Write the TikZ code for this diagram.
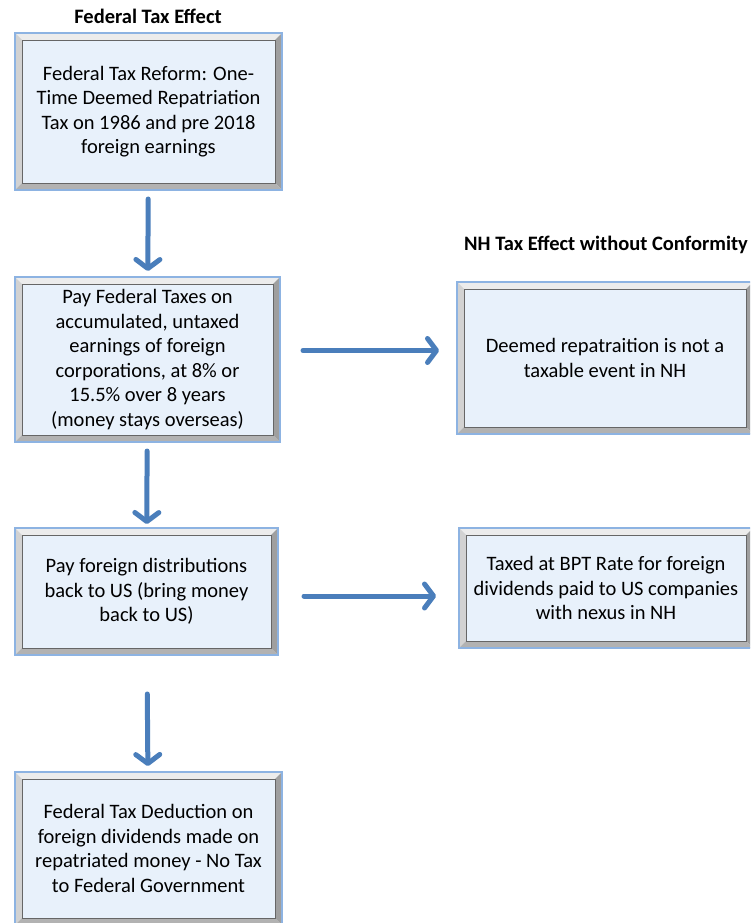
\documentclass[tikz,border=0pt]{standalone}
\usepackage{fontspec}
\setmainfont{Carlito}
\usetikzlibrary{arrows.meta}
\definecolor{boxfill}{RGB}{232,241,251}
\definecolor{boxedge}{RGB}{141,179,226}
\definecolor{flowblue}{RGB}{74,126,187}
\newcommand\bevelwidth{7pt}

\begin{document}
\begin{tikzpicture}[x=1pt,y=-1pt,
		bevel/.style={path picture={
			\path (path picture bounding box.north west) coordinate (bnw)
			      (path picture bounding box.north east) coordinate (bne)
			      (path picture bounding box.south west) coordinate (bsw)
			      (path picture bounding box.south east) coordinate (bse);
			\fill[gray!15] (bnw) -- (bne) -- ([shift={(-\bevelwidth,-\bevelwidth)}]bne) -- ([shift={(\bevelwidth,-\bevelwidth)}]bnw) -- cycle;
			\fill[gray!35] (bnw) -- (bsw) -- ([shift={(\bevelwidth,\bevelwidth)}]bsw) -- ([shift={(\bevelwidth,-\bevelwidth)}]bnw) -- cycle;
			\fill[gray!75] (bne) -- (bse) -- ([shift={(-\bevelwidth,\bevelwidth)}]bse) -- ([shift={(-\bevelwidth,-\bevelwidth)}]bne) -- cycle;
			\fill[gray!60] (bsw) -- (bse) -- ([shift={(-\bevelwidth,\bevelwidth)}]bse) -- ([shift={(\bevelwidth,\bevelwidth)}]bsw) -- cycle;
			\draw[gray!80!black, line width=0.6pt] ([shift={(\bevelwidth,-\bevelwidth)}]bnw) rectangle ([shift={(-\bevelwidth,\bevelwidth)}]bse);
		}},
		taxbox/.style={bevel, draw=boxedge, line width=2pt, fill=boxfill, align=center, inner sep=0pt,
			font=\fontsize{20.5}{24.5}\selectfont},
		heading/.style={font=\bfseries\fontsize{20.5}{24}\selectfont},
		flow/.style={draw=flowblue, line width=5pt, line cap=round,
			-{Straight Barb[length=9pt,width=24pt,round]}}]
	\useasboundingbox (0,0) rectangle (750,923);
	\clip (0,0) rectangle (750,923);
	\node[heading] (fedtitle) at (148,16) {Federal Tax Effect};
	\node[heading] (nhtitle) at (606,245) {NH Tax Effect without Conformity};
	\node[taxbox, minimum width=267pt, minimum height=157pt] (reform) at (148.5,111.5)
		{Federal Tax Reform: One-\\Time Deemed Repatriation\\Tax on 1986 and pre 2018\\foreign earnings};
	\node[taxbox, minimum width=265pt, minimum height=165pt] (payfed) at (147.5,359.5)
		{Pay Federal Taxes on\\accumulated, untaxed\\earnings of foreign\\corporations, at 8\% or\\15.5\% over 8 years\\(money stays overseas)};
	\node[taxbox, minimum width=296pt, minimum height=152pt] (deemed) at (605,358)
		{Deemed repatraition is not a\\taxable event in NH};
	\node[taxbox, minimum width=263pt, minimum height=127pt] (payforeign) at (146.5,591.5)
		{Pay foreign distributions\\back to US (bring money\\back to US)};
	\node[taxbox, minimum width=294pt, minimum height=120pt] (bpt) at (606,588)
		{Taxed at BPT Rate for foreign\\dividends paid to US companies\\with nexus in NH};
	\node[taxbox, minimum width=267pt, minimum height=153pt] (deduct) at (148.5,848.5)
		{Federal Tax Deduction on\\foreign dividends made on\\repatriated money - No Tax\\to Federal Government};
	\draw[flow, shorten <=8pt, shorten >=5pt] (reform) -- (payfed);
	\draw[flow, shorten <=8pt, shorten >=3pt] (payfed) -- (payforeign);
	\draw[flow, shorten <=38pt, shorten >=5pt] (payforeign) -- (deduct);
	\draw[flow, shorten <=22pt, shorten >=17pt] ([yshift=9pt]payfed.east) -- ([yshift=9pt]payfed.east -| deemed.west);
	\draw[flow, shorten <=25pt, shorten >=22pt] ([yshift=-4.5pt]payforeign.east) -- ([yshift=-4.5pt]payforeign.east -| bpt.west);
\end{tikzpicture}
\end{document}
